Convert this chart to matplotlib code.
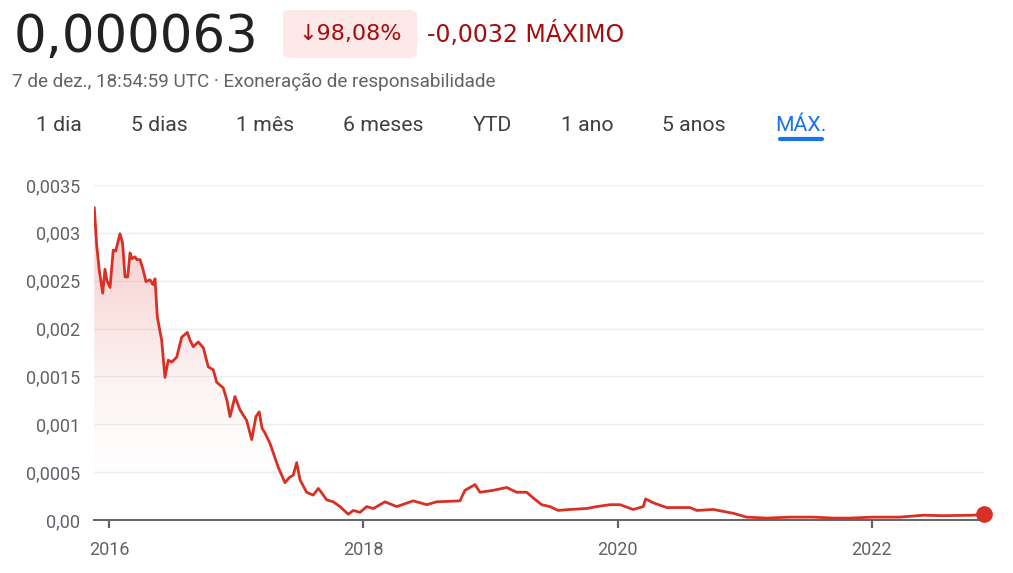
import numpy as np
import matplotlib.pyplot as plt
from matplotlib.patches import FancyBboxPatch
from matplotlib.colors import LinearSegmentedColormap

plt.rcParams['font.family'] = ['Roboto', 'DejaVu Sans']

# price history (decimal years, price)
years = [2015.882, 2015.901, 2015.921, 2015.948, 2015.966, 2015.982, 2016.006, 2016.031,
         2016.050, 2016.084, 2016.104, 2016.124, 2016.145, 2016.163, 2016.179, 2016.202,
         2016.218, 2016.242, 2016.265, 2016.289, 2016.320, 2016.344, 2016.360, 2016.378,
         2016.412, 2016.438, 2016.464, 2016.491, 2016.530, 2016.570, 2016.614, 2016.635,
         2016.661, 2016.700, 2016.740, 2016.779, 2016.818, 2016.845, 2016.897, 2016.926,
         2016.950, 2016.989, 2017.029, 2017.081, 2017.121, 2017.154, 2017.180, 2017.202,
         2017.225, 2017.265, 2017.296, 2017.330, 2017.383, 2017.414, 2017.448, 2017.475,
         2017.501, 2017.553, 2017.605, 2017.645, 2017.674, 2017.711, 2017.763, 2017.816,
         2017.881, 2017.920, 2017.973, 2018.026, 2018.078, 2018.170, 2018.262, 2018.392,
         2018.498, 2018.577, 2018.760, 2018.799, 2018.878, 2018.917, 2019.022, 2019.127,
         2019.206, 2019.285, 2019.337, 2019.403, 2019.468, 2019.533, 2019.626, 2019.757,
         2019.836, 2019.940, 2020.019, 2020.124, 2020.202, 2020.221, 2020.281, 2020.387,
         2020.570, 2020.623, 2020.753, 2020.911, 2021.016, 2021.174, 2021.357, 2021.540,
         2021.698, 2021.829, 2022.012, 2022.222, 2022.406, 2022.563, 2022.799, 2022.884]
prices = [0.00326, 0.00287, 0.00261, 0.00237, 0.00262, 0.00250, 0.00243, 0.00282,
          0.00281, 0.00299, 0.00290, 0.00254, 0.00254, 0.00279, 0.00273, 0.00275,
          0.00272, 0.00272, 0.00262, 0.00249, 0.00251, 0.00246, 0.00252, 0.00212,
          0.00188, 0.00149, 0.00167, 0.00165, 0.00170, 0.00191, 0.00196, 0.00188,
          0.00181, 0.00186, 0.00180, 0.00160, 0.00157, 0.00144, 0.00138, 0.00125,
          0.00108, 0.00129, 0.00115, 0.00104, 0.00084, 0.00108, 0.00113, 0.00096,
          0.00091, 0.00080, 0.00068, 0.00055, 0.00039, 0.00044, 0.00047, 0.00060,
          0.00042, 0.00029, 0.00026, 0.00033, 0.00028, 0.00021, 0.00019, 0.00014,
          0.00006, 0.00010, 0.00008, 0.00014, 0.00012, 0.00019, 0.00014, 0.00020,
          0.00016, 0.00019, 0.00020, 0.00031, 0.00037, 0.00029, 0.00031, 0.00034,
          0.00029, 0.00029, 0.00023, 0.00016, 0.00014, 0.00010, 0.00011, 0.00012,
          0.00014, 0.00016, 0.00016, 0.00011, 0.00014, 0.00022, 0.00018, 0.00013,
          0.00013, 0.00010, 0.00011, 0.00007, 0.00003, 0.00002, 0.00003, 0.00003,
          0.00002, 0.00002, 0.00003, 0.00003, 0.00005, 0.000045, 0.00005, 0.000063]

yticks = [0, 0.0005, 0.001, 0.0015, 0.002, 0.0025, 0.003, 0.0035]
ylabels = ['0,00', '0,0005', '0,001', '0,0015', '0,002', '0,0025', '0,003', '0,0035']
xticks = [2016, 2018, 2020, 2022]
tabs = ['1 dia', '5 dias', '1 mês', '6 meses', 'YTD', '1 ano', '5 anos', 'MÁX.']
tab_x = [59, 159, 265, 383, 492, 587, 694, 801]

W, H = 1013, 573
fig = plt.figure(figsize=(W / 100, H / 100), dpi=100)
ax = fig.add_axes([94.3 / W, (H - 520) / H, (985 - 94.3) / W, 335 / H])

red = '#d93025'
ax.set_xlim(2015.882, 2022.892)
ax.set_ylim(0, 0.0035)

# gradient fill under the line
poly = ax.fill_between(years, prices, 0, color='none', lw=0)
cmap = LinearSegmentedColormap.from_list('g', [(1, 1, 1, 0), (0.85, 0.19, 0.15, 0.06), (0.85, 0.19, 0.15, 0.22)])
grad = np.linspace(0, 1, 256).reshape(-1, 1)
grad = np.clip(grad * 1.15, 0, 1)
im = ax.imshow(grad, aspect='auto', cmap=cmap, origin='lower',
               extent=[2015.882, 2022.892, 0, 0.0033], zorder=1)
im.set_clip_path(poly.get_paths()[0], transform=ax.transData)

ax.plot(years, prices, color=red, lw=2.0, zorder=3, solid_joinstyle='round')
ax.plot(years[-1], prices[-1], 'o', color=red, ms=11, zorder=4, clip_on=False)

ax.set_yticks(yticks)
ax.set_yticklabels(ylabels)
ax.set_xticks(xticks)
ax.set_xticklabels([str(x) for x in xticks])
ax.tick_params(axis='y', length=0, pad=10, labelsize=13, labelcolor='#5f6368')
ax.tick_params(axis='x', length=6, width=1.6, color='#5f6368', pad=9,
               labelsize=13, labelcolor='#5f6368', direction='out')
ax.grid(axis='y', color='#eeeff1', lw=1)
ax.set_axisbelow(True)
for s in ['top', 'right', 'left']:
    ax.spines[s].set_visible(False)
ax.spines['bottom'].set_color('#5f6368')
ax.spines['bottom'].set_linewidth(1.4)
ax.spines['bottom'].set_zorder(2.5)

# header
def fy(px):
    return 1 - px / H

fig.text(14 / W, fy(38), '0,000063', fontsize=37, color='#202124', va='center', ha='left',
         family='DejaVu Sans')
badge = FancyBboxPatch((283 / W, fy(58)), 134 / W, 48 / H,
                       boxstyle='round,pad=0,rounding_size=0.008',
                       transform=fig.transFigure, fc='#fce8e6', ec='none')
fig.patches.append(badge)
fig.text(350 / W, fy(34), '↓98,08%', fontsize=16, color='#a50e0e', va='center', ha='center',
         family='DejaVu Sans')
fig.text(427 / W, fy(34), '-0,0032 MÁXIMO', fontsize=17, color='#a50e0e', va='center', ha='left',
         family='DejaVu Sans')
fig.text(12 / W, fy(82), '7 de dez., 18:54:59 UTC · Exoneração de responsabilidade',
         fontsize=13.6, color='#5f6368', va='center', ha='left')

for t, x in zip(tabs, tab_x):
    c = '#1a73e8' if t == 'MÁX.' else '#3c4043'
    fig.text(x / W, fy(125.5), t, fontsize=15.3, color=c, va='center', ha='center')
fig.add_artist(plt.Line2D([780 / W, 822 / W], [fy(139), fy(139)], color='#1a73e8',
                          lw=3, solid_capstyle='round', transform=fig.transFigure))

fig.savefig('out.png', dpi=100)
